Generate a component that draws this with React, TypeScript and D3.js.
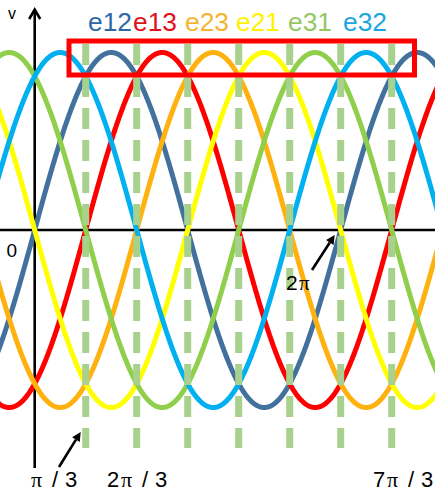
import * as React from 'react';
import * as d3 from 'd3';

const W = 435;
const H = 496;

// phase voltages, lag in units of pi/3
const seriesNames = ['e12', 'e13', 'e23', 'e21', 'e31', 'e32'];
const seriesLags = [0, 1, 2, 3, 4, 5];
const seriesColors = ['#41719C', '#FF0000', '#FFB20F', '#FFFF00', '#8FCF4C', '#00B0F0'];
const legendColors = ['#2C68A8', '#E0101E', '#F5B330', '#FFF200', '#94C860', '#1CA6E0'];
const legendX = [88, 133, 185, 236, 288, 343];

// dashed guides at k * pi/3
const guideSteps = [1, 2, 3, 4, 5, 6, 7];

// bottom tick labels
const tickSteps = [1, 2, 7];
const tickLabels = [['', 'π', '/', '3'], ['2', 'π', '/', '3'], ['7', 'π', '/', '3']];

const step = Math.PI / 3;

export default function App() {
    const ref = React.useRef<SVGSVGElement>(null);

    React.useEffect(() => {
        const svg = d3.select(ref.current);
        svg.selectAll('*').remove();

        const x0 = 34.7;
        const px = 51;
        const xScale = d3.scaleLinear()
            .domain([0, 7 * step])
            .range([x0, x0 + 7 * px]);
        const yScale = d3.scaleLinear()
            .domain([-1, 1])
            .range([407.5, 52.5]);

        svg.append('rect').attr('width', W).attr('height', H).attr('fill', '#fff');

        // axes
        svg.append('line')
            .attr('x1', 0).attr('x2', W)
            .attr('y1', yScale(0)).attr('y2', yScale(0))
            .attr('stroke', '#000').attr('stroke-width', 2.6);
        svg.append('line')
            .attr('x1', xScale(0)).attr('x2', xScale(0))
            .attr('y1', 10).attr('y2', 468)
            .attr('stroke', '#000').attr('stroke-width', 2.6);
        svg.append('path')
            .attr('d', `M${xScale(0) - 5.5},19 L${xScale(0)},9.5 L${xScale(0) + 5.5},19`)
            .attr('fill', 'none').attr('stroke', '#000').attr('stroke-width', 2.6);

        // curves
        const thetas = d3.range(xScale.invert(-5), xScale.invert(W + 5), 0.01);
        const line = d3.line<number>();
        seriesLags.forEach((lag, i) => {
            svg.append('path')
                .datum(thetas)
                .attr('d', line.x((t) => xScale(t)).y((t) => yScale(Math.sin(t - lag * step))))
                .attr('fill', 'none')
                .attr('stroke', seriesColors[i])
                .attr('stroke-width', 5);
        });

        // dashed guides
        svg.selectAll('.guide')
            .data(guideSteps)
            .enter()
                .append('line')
                .attr('class', 'guide')
                .attr('x1', (k) => xScale(k * step))
                .attr('x2', (k) => xScale(k * step))
                .attr('y1', 44)
                .attr('y2', 448)
                .attr('stroke', '#A9D18E')
                .attr('stroke-width', 7)
                .attr('stroke-dasharray', '21 11');

        // red box
        svg.append('rect')
            .attr('x', 69).attr('y', 41)
            .attr('width', 345.5).attr('height', 34)
            .attr('fill', 'none').attr('stroke', '#FF0000').attr('stroke-width', 5);

        // legend
        seriesNames.forEach((name, i) => {
            svg.append('text')
                .attr('x', legendX[i]).attr('y', 31)
                .attr('font-family', 'Liberation Sans, Arial, sans-serif')
                .attr('font-size', 26)
                .attr('textLength', 44)
                .attr('lengthAdjust', 'spacingAndGlyphs')
                .attr('fill', legendColors[i])
                .text(name);
        });

        const sans = 'Liberation Sans, Arial, sans-serif';
        const serif = 'Liberation Serif, serif';

        svg.append('text').attr('x', 8).attr('y', 19)
            .attr('font-family', sans).attr('font-size', 16).text('v');
        svg.append('text').attr('x', 6.5).attr('y', 257)
            .attr('font-family', sans).attr('font-size', 19).text('0');

        // bottom labels: glyph offsets from label start
        const glyphDx = [0, 14, 35, 48];
        const labelStart = [17, 107, 373];
        tickSteps.forEach((k, i) => {
            const t = svg.append('text')
                .attr('y', 487)
                .attr('font-size', 22)
                .attr('fill', '#000');
            tickLabels[i].forEach((g, j) => {
                if (!g) return;
                t.append('tspan')
                    .attr('x', labelStart[i] + glyphDx[j])
                    .attr('font-family', g === 'π' ? serif : sans)
                    .text(g);
            });
        });

        // 2 pi label
        const t2 = svg.append('text').attr('y', 290).attr('font-size', 21);
        t2.append('tspan').attr('x', 286).attr('font-family', sans).text('2');
        t2.append('tspan').attr('x', 299).attr('font-family', serif).text('π');

        // pointer arrows
        const arrow = (xa: number, ya: number, xb: number, yb: number) => {
            const a = Math.atan2(yb - ya, xb - xa);
            const len = 9, wid = 4.5;
            const bx = xb - len * Math.cos(a), by = yb - len * Math.sin(a);
            svg.append('line')
                .attr('x1', xa).attr('y1', ya).attr('x2', bx).attr('y2', by)
                .attr('stroke', '#000').attr('stroke-width', 2.6);
            svg.append('path')
                .attr('d', `M${xb},${yb} L${bx - wid * Math.sin(a)},${by + wid * Math.cos(a)} L${bx + wid * Math.sin(a)},${by - wid * Math.cos(a)} Z`)
                .attr('fill', '#000');
        };
        arrow(59, 467, xScale(step) - 5, 432);
        arrow(312, 270, xScale(6 * step) - 6, 235);
    }, []);

    return (
        <svg ref={ref} width={W} height={H}
            style={{ position: 'absolute', left: 0, top: 0, display: 'block' }} />
    );
}
